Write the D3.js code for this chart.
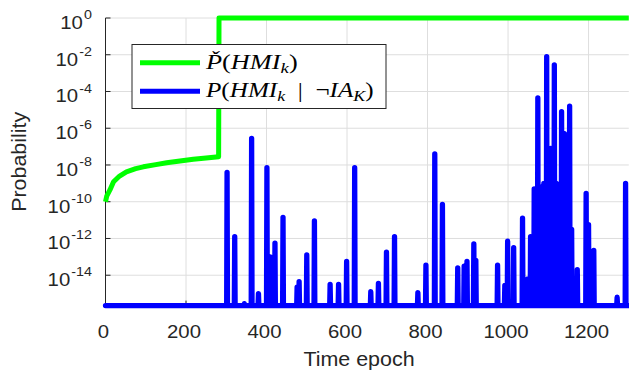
<!DOCTYPE html>
<html>
<head>
<meta charset="utf-8">
<script src="https://cdn.jsdelivr.net/npm/d3@7/dist/d3.min.js"></script>
<style>
  body { margin: 0; background: #fff; }
  text { font-family: "Liberation Sans", Arial, sans-serif; fill: #262626; }
  .leg text { font-family: "Liberation Serif", "DejaVu Serif", serif; fill: #000; }
</style>
</head>
<body>
<svg id="chart" width="629" height="372"></svg>
<script>
const EPS = 2.220446049250313e-16;

// green curve: epochs and log10 of the value
const boundEpochs = [0, 3, 11, 20, 35, 52, 75, 94, 125, 152, 185, 218, 250, 281, 282, 1300];
const boundLog10 = [-10, -9.7, -9.36, -8.91, -8.6, -8.37, -8.2, -8.1, -7.98, -7.88, -7.78, -7.69, -7.62, -7.55, 0, 0];

// blue series: only the epochs where it leaves the floor (EPS)
const spikeEpochs = [302, 321, 345, 363, 380, 401, 409, 421, 441, 476, 481, 500, 519,
  558, 579, 599, 619, 659, 678, 698, 718, 776, 796, 818, 837, 875, 891, 898, 915, 920,
  974, 992, 999, 1014, 1036, 1049, 1056, 1065, 1074, 1082, 1089, 1096, 1101, 1106, 1111,
  1115, 1120, 1125, 1129, 1133, 1137, 1140, 1147, 1153, 1158, 1172, 1194, 1200, 1213, 1271, 1292];
const spikeLog10 = [-8.4, -11.9, -15.55, -6.55, -15.0, -8.15, -13.0, -12.25, -10.85, -14.65, -14.35, -12.9, -11.05,
  -14.5, -14.5, -13.25, -8.15, -14.9, -14.45, -12.75, -11.9, -14.95, -13.45, -7.4, -10.15, -13.6, -13.5, -13.25, -12.3, -13.2,
  -13.45, -14.55, -12.15, -12.5, -10.9, -14.2, -11.9, -9.3, -4.35, -9.2, -9.0, -2.1, -8.6, -7.1, -8.5,
  -2.55, -9.0, -9.45, -9.3, -5.1, -8.8, -6.3, -9.2, -4.8, -11.5, -13.7, -9.55, -11.25, -12.65, -15.2, -9.0];

const xTicks = [0, 200, 400, 600, 800, 1000, 1200];
const yTickExp = [0, -2, -4, -6, -8, -10, -12, -14];
const xMax = 1300;

const svg = d3.select("#chart");

const x = d3.scaleLinear().domain([0, xMax]).range([105.5, 628.8]);
const y = d3.scaleLog().domain([EPS, 1]).range([305.6, 18]);

const SX = 1.1; // the sans labels of the reference are a bit wider than Liberation Sans

// grid
const grid = svg.append("g").attr("stroke", "#dedede").attr("stroke-width", 1);
xTicks.forEach(t => {
  grid.append("line").attr("x1", x(t)).attr("x2", x(t)).attr("y1", y(EPS)).attr("y2", y(1));
});
yTickExp.forEach(e => {
  grid.append("line").attr("x1", x(0)).attr("x2", x(xMax)).attr("y1", y(10 ** e)).attr("y2", y(10 ** e));
});

// axes lines + inward ticks
const ax = svg.append("g").attr("stroke", "#262626").attr("stroke-width", 1);
ax.append("line").attr("x1", x(0)).attr("x2", x(0)).attr("y1", y(EPS)).attr("y2", y(1));
ax.append("line").attr("x1", x(0)).attr("x2", x(xMax)).attr("y1", y(EPS)).attr("y2", y(EPS));
yTickExp.forEach(e => {
  ax.append("line").attr("x1", x(0)).attr("x2", x(0) + 5).attr("y1", y(10 ** e)).attr("y2", y(10 ** e));
});
xTicks.forEach(t => {
  ax.append("line").attr("x1", x(t)).attr("x2", x(t)).attr("y1", y(EPS)).attr("y2", y(EPS) - 5);
});

// tick labels
svg.append("g").selectAll("text").data(xTicks).enter().append("text")
  .attr("transform", d => `translate(${x(d) - 2},338) scale(${SX},1)`)
  .attr("text-anchor", "middle").attr("font-size", 18.5)
  .text(d => d);

const yl = svg.append("g").selectAll("text").data(yTickExp).enter().append("text")
  .attr("transform", d => `translate(92,${y(10 ** d) + 11}) scale(${SX},1)`)
  .attr("text-anchor", "end").attr("font-size", 18.5);
yl.append("tspan").text("10");
yl.append("tspan").attr("dy", -10).attr("dx", 1).attr("font-size", 13).text(d => d === 0 ? "0" : "-" + (-d));

// axis titles
svg.append("text").attr("transform", `translate(359,366) scale(${SX},1)`)
  .attr("text-anchor", "middle").attr("font-size", 19.5).text("Time epoch");
svg.append("text").attr("transform", `translate(26,${(y(EPS) + y(1)) / 2}) rotate(-90) scale(${SX},1)`)
  .attr("text-anchor", "middle").attr("font-size", 19.5).text("Probability");

// series
const line = d3.line().x(d => x(d[0])).y(d => y(d[1]));

const boundPts = boundEpochs.map((t, i) => [t, 10 ** boundLog10[i]]);
svg.append("path").datum(boundPts)
  .attr("d", line).attr("fill", "none").attr("stroke", "#00ff00")
  .attr("stroke-width", 5).attr("stroke-linejoin", "round");

const bluePts = [[0, EPS]];
spikeEpochs.forEach((t, i) => {
  bluePts.push([t - 1, EPS], [t, 10 ** spikeLog10[i]], [t + 1, EPS]);
});
bluePts.push([xMax, EPS]);
svg.append("path").datum(bluePts)
  .attr("d", line).attr("fill", "none").attr("stroke", "#0000ff")
  .attr("stroke-width", 5.3).attr("stroke-linejoin", "round").attr("stroke-linecap", "round");

// legend
const leg = svg.append("g").attr("class", "leg");
leg.append("rect").attr("x", 132).attr("y", 44.5).attr("width", 254).attr("height", 64)
  .attr("fill", "#fff").attr("stroke", "#262626").attr("stroke-width", 1);
leg.append("line").attr("x1", 140).attr("x2", 200).attr("y1", 62.8).attr("y2", 62.8)
  .attr("stroke", "#00ff00").attr("stroke-width", 5);
leg.append("line").attr("x1", 140).attr("x2", 200).attr("y1", 91.2).attr("y2", 91.2)
  .attr("stroke", "#0000ff").attr("stroke-width", 5);

const t1 = leg.append("text").attr("font-size", 21);
t1.append("tspan").attr("font-style", "italic").text("P\u030C");
t1.append("tspan").text("(");
t1.append("tspan").attr("font-style", "italic").text("HMI");
t1.append("tspan").attr("font-style", "italic").attr("font-size", 15).attr("dy", 4).text("k");
t1.append("tspan").attr("dy", -4).text(")");

const t2 = leg.append("text").attr("font-size", 21);
t2.append("tspan").attr("font-style", "italic").text("P");
t2.append("tspan").text("(");
t2.append("tspan").attr("font-style", "italic").text("HMI");
t2.append("tspan").attr("font-style", "italic").attr("font-size", 15).attr("dy", 4).text("k");
t2.append("tspan").attr("dy", -4).text("\u2002|\u2002\u00AC");
t2.append("tspan").attr("font-style", "italic").text("IA");
t2.append("tspan").attr("font-style", "italic").attr("font-size", 15).attr("dy", 4).text("K");
t2.append("tspan").attr("dy", -4).text(")");

// stretch the legend entries to the widths of the reference's LaTeX rendering
[[t1, 69, 93], [t2, 96.5, 169]].forEach(([t, by, w]) => {
  const bw = t.node().getBBox().width;
  t.attr("transform", `translate(206,${by}) scale(${w / bw},1)`);
});
</script>
</body>
</html>
